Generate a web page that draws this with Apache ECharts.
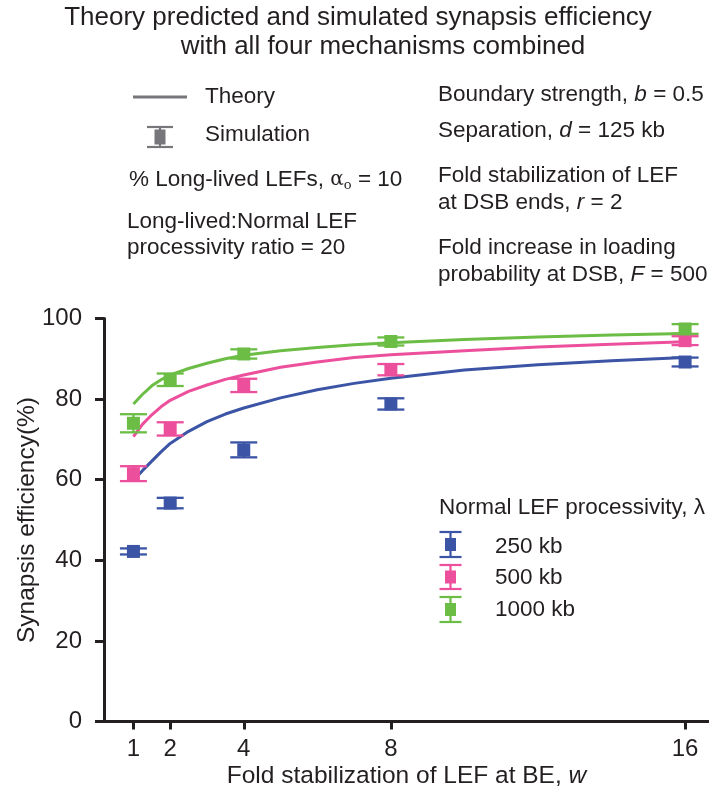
<!DOCTYPE html>
<html>
<head>
<meta charset="utf-8">
<script src="https://cdn.jsdelivr.net/npm/echarts@6/dist/echarts.min.js"></script>
<style>
  html, body { margin: 0; padding: 0; background: #fff; }
  #chart { width: 709px; height: 795px; }
</style>
</head>
<body>
<div id="chart"></div>
<script>
// Fold stabilization of LEF at the boundary element (w)
const wTicks = [1, 2, 4, 8, 16];
const simW = [1, 2, 4, 8, 16];

// Simulated synapsis efficiency (%) and its error half-width per processivity
const sim250 = [42.2, 54.2, 67.4, 78.8, 89.2];
const err250 = [0.75, 1.3, 1.85, 1.4, 1.1];
const sim500 = [61.5, 72.6, 83.4, 87.3, 94.5];
const err500 = [1.85, 1.65, 1.65, 1.4, 1.1];
const sim1000 = [74.0, 84.8, 91.2, 94.3, 97.4];
const err1000 = [2.25, 1.55, 1.15, 1.0, 1.2];

// Theory curves, sampled at these w
const theoryW = [1, 1.25, 1.5, 1.75, 2, 2.5, 3, 3.5, 4, 5, 6, 7, 8, 10, 12, 14, 16];
const theory250 = [59.8, 62.3, 64.6, 66.9, 69.0, 72.0, 74.4, 76.3, 77.8, 80.3, 82.3, 83.9, 85.2, 87.2, 88.5, 89.5, 90.3];
const theory500 = [70.7, 73.8, 76.1, 78.1, 79.7, 81.9, 83.5, 84.9, 86.0, 87.9, 89.2, 90.3, 91.0, 92.0, 92.9, 93.6, 94.2];
const theory1000 = [78.8, 81.2, 83.3, 84.8, 86.0, 87.6, 88.9, 90.0, 90.9, 92.0, 92.8, 93.5, 94.0, 94.8, 95.4, 95.9, 96.3];

const groupNames = ['250 kb', '500 kb', '1000 kb'];
const colors = ['#3b54a5', '#ec4f9c', '#6bbd45'];

const FONT = '"Liberation Sans", Arial, sans-serif';
const TXT = '#231f20';
const FS = 22.5;

const pair = (xs, ys) => xs.map((x, i) => [x, ys[i]]);
const errData = (ys, es) => simW.map((x, i) => [x, ys[i] - es[i], ys[i] + es[i]]);

function errorBarSeries(name, color, ys, es) {
  return {
    name: name,
    type: 'custom',
    z: 4,
    data: errData(ys, es),
    renderItem: function (params, api) {
      const x = api.value(0);
      const lo = api.coord([x, api.value(1)]);
      const hi = api.coord([x, api.value(2)]);
      const half = 13.5;
      const st = { stroke: color, lineWidth: 2.3 };
      return {
        type: 'group',
        children: [
          { type: 'line', shape: { x1: lo[0], y1: lo[1], x2: hi[0], y2: hi[1] }, style: st },
          { type: 'line', shape: { x1: lo[0] - half, y1: lo[1], x2: lo[0] + half, y2: lo[1] }, style: st },
          { type: 'line', shape: { x1: hi[0] - half, y1: hi[1], x2: hi[0] + half, y2: hi[1] }, style: st }
        ]
      };
    }
  };
}

function pointSeries(name, color, ys) {
  return {
    name: name,
    type: 'scatter',
    z: 5,
    symbol: 'rect',
    symbolSize: [13, 13],
    itemStyle: { color: color, opacity: 1 },
    data: pair(simW, ys)
  };
}

function theorySeries(name, color, ys) {
  return {
    name: name,
    type: 'line',
    z: 3,
    smooth: false,
    showSymbol: false,
    lineStyle: { color: color, width: 3, join: 'round' },
    data: pair(theoryW, ys)
  };
}

const rich = {
  i: { fontStyle: 'italic', fontSize: FS, fontFamily: FONT, color: TXT },
  g: { fontSize: 20, fontFamily: '"DejaVu Serif", serif', color: TXT },
  s: { fontSize: 13, fontFamily: '"DejaVu Serif", serif', color: TXT, padding: [12, 0, 0, 0] }
};

function label(x, y, text, size, align) {
  return {
    type: 'text', x: x, y: y,
    style: {
      text: text, fill: TXT, fontSize: size || FS, fontFamily: FONT,
      align: align || 'left', verticalAlign: 'middle', rich: rich
    }
  };
}

function legendGlyph(cx, cy, color, capHalf, top, bot, sq) {
  return {
    type: 'group',
    children: [
      { type: 'line', shape: { x1: cx, y1: cy - top, x2: cx, y2: cy + bot }, style: { stroke: color, lineWidth: 2.2 } },
      { type: 'line', shape: { x1: cx - capHalf, y1: cy - top, x2: cx + capHalf, y2: cy - top }, style: { stroke: color, lineWidth: 2.2 } },
      { type: 'line', shape: { x1: cx - capHalf, y1: cy + bot, x2: cx + capHalf, y2: cy + bot }, style: { stroke: color, lineWidth: 2.2 } },
      { type: 'rect', shape: { x: cx - sq[0] / 2, y: cy - sq[1] / 2, width: sq[0], height: sq[1] }, style: { fill: color } }
    ]
  };
}

const graphics = [
  // title
  label(358, 18, 'Theory predicted and simulated synapsis efficiency', 26, 'center'),
  label(383, 47, 'with all four mechanisms combined', 26, 'center'),
  // legend: theory / simulation
  { type: 'line', shape: { x1: 133, y1: 97, x2: 187, y2: 97 }, style: { stroke: '#77777b', lineWidth: 3 } },
  label(205, 97, 'Theory'),
  legendGlyph(160, 137, '#77777b', 13, 10, 10, [11, 15]),
  label(205, 135, 'Simulation'),
  label(129, 180, '% Long-lived LEFs, {g|α}{s|o} = 10'),
  label(127, 222, 'Long-lived:Normal LEF'),
  label(127, 248, 'processivity ratio = 20'),
  // parameter notes
  label(438, 95, 'Boundary strength, {i|b} = 0.5'),
  label(438, 131, 'Separation, {i|d} = 125 kb'),
  label(438, 176, 'Fold stabilization of LEF'),
  label(438, 203, 'at DSB ends, {i|r} = 2'),
  label(438, 248, 'Fold increase in loading'),
  label(438, 275, 'probability at DSB, {i|F} = 500'),
  // processivity legend
  label(439, 508, 'Normal LEF processivity, λ'),
  legendGlyph(450.5, 544.5, colors[0], 11, 12.5, 12.5, [11, 13]),
  legendGlyph(450.5, 577, colors[1], 11, 12, 12, [11, 13]),
  legendGlyph(450.5, 609.5, colors[2], 11, 12.5, 12.5, [11, 13]),
  label(495, 547, groupNames[0]),
  label(495, 578, groupNames[1]),
  label(495, 610, groupNames[2])
];

const chart = echarts.init(document.getElementById('chart'), null, { renderer: 'canvas' });
chart.setOption({
  backgroundColor: '#fff',
  animation: false,
  grid: { left: 104, right: 0, top: 318.5, bottom: 73.5, containLabel: false },
  xAxis: {
    type: 'value',
    min: 0.2,
    max: 16.65,
    name: 'Fold stabilization of LEF at BE, {i|w}',
    nameLocation: 'middle',
    nameGap: 42,
    nameMoveOverlap: false,
    nameTextStyle: { fontFamily: FONT, fontSize: 24.5, color: TXT, rich: { i: { fontStyle: 'italic', fontSize: 24.5, fontFamily: FONT, color: TXT } } },
    splitLine: { show: false },
    axisLine: { lineStyle: { color: '#231f20', width: 3 } },
    axisTick: { show: true, customValues: wTicks, length: 8, lineStyle: { color: '#231f20', width: 3 } },
    axisLabel: { customValues: wTicks, fontFamily: FONT, fontSize: 24, color: TXT, margin: 16 }
  },
  yAxis: {
    type: 'value',
    min: 0,
    max: 100,
    interval: 20,
    name: 'Synapsis efficiency(%)',
    nameLocation: 'middle',
    nameGap: 64,
    nameMoveOverlap: false,
    nameTextStyle: { fontFamily: FONT, fontSize: 24.5, color: TXT },
    splitLine: { show: false },
    axisLine: { lineStyle: { color: '#231f20', width: 3 } },
    axisTick: { length: 9, lineStyle: { color: '#231f20', width: 3 } },
    axisLabel: { fontFamily: FONT, fontSize: 24, color: TXT, margin: 22 }
  },
  graphic: graphics,
  series: [
    theorySeries('Theory ' + groupNames[0], colors[0], theory250),
    theorySeries('Theory ' + groupNames[1], colors[1], theory500),
    theorySeries('Theory ' + groupNames[2], colors[2], theory1000),
    errorBarSeries('Error ' + groupNames[0], colors[0], sim250, err250),
    errorBarSeries('Error ' + groupNames[1], colors[1], sim500, err500),
    errorBarSeries('Error ' + groupNames[2], colors[2], sim1000, err1000),
    pointSeries(groupNames[0], colors[0], sim250),
    pointSeries(groupNames[1], colors[1], sim500),
    pointSeries(groupNames[2], colors[2], sim1000)
  ]
});
</script>
</body>
</html>
